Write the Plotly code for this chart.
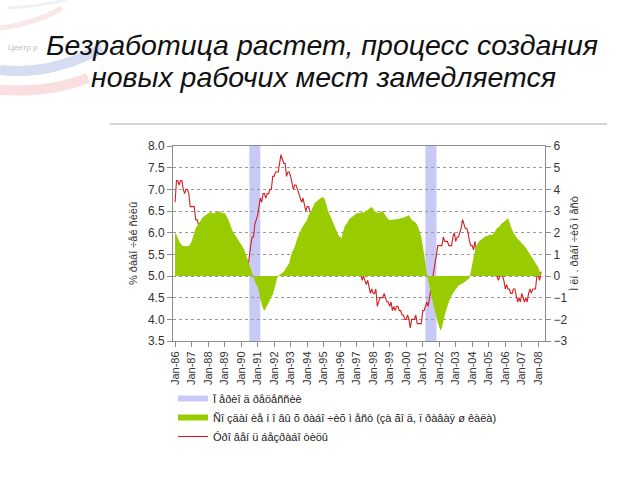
import pandas as pd
import plotly.graph_objects as go

# ---------------- data ----------------
start_month = "1986-01-01"

# Unemployment rate, % of labour force (left axis), monthly Jan-86 .. Mar-08
unemployment = [
    6.7, 7.2, 7.2, 7.1, 7.2, 7.2, 7.0, 6.9, 7.0, 7.0, 6.9, 6.6,   # 1986
    6.6, 6.6, 6.6, 6.3, 6.3, 6.2, 6.1, 6.0, 5.9, 6.0, 5.8, 5.7,   # 1987
    5.7, 5.7, 5.7, 5.4, 5.6, 5.4, 5.4, 5.6, 5.4, 5.4, 5.3, 5.3,   # 1988
    5.4, 5.2, 5.0, 5.2, 5.2, 5.3, 5.2, 5.2, 5.3, 5.3, 5.4, 5.4,   # 1989
    5.4, 5.3, 5.2, 5.4, 5.4, 5.2, 5.5, 5.7, 5.9, 5.9, 6.2, 6.3,   # 1990
    6.4, 6.6, 6.8, 6.7, 6.9, 6.9, 6.8, 6.9, 6.9, 7.0, 7.0, 7.3,   # 1991
    7.3, 7.4, 7.4, 7.4, 7.6, 7.8, 7.7, 7.6, 7.6, 7.3, 7.4, 7.4,   # 1992
    7.3, 7.1, 7.0, 7.1, 7.1, 7.0, 6.9, 6.8, 6.7, 6.8, 6.6, 6.5,   # 1993
    6.6, 6.6, 6.5, 6.4, 6.1, 6.1, 6.1, 6.0, 5.9, 5.8, 5.6, 5.5,   # 1994
    5.6, 5.4, 5.4, 5.8, 5.6, 5.6, 5.7, 5.7, 5.6, 5.5, 5.6, 5.6,   # 1995
    5.6, 5.5, 5.5, 5.6, 5.6, 5.3, 5.5, 5.1, 5.2, 5.2, 5.4, 5.4,   # 1996
    5.3, 5.2, 5.2, 5.1, 4.9, 5.0, 4.9, 4.8, 4.9, 4.7, 4.6, 4.7,   # 1997
    4.6, 4.6, 4.7, 4.3, 4.4, 4.5, 4.5, 4.5, 4.6, 4.5, 4.4, 4.4,   # 1998
    4.3, 4.4, 4.2, 4.3, 4.2, 4.3, 4.3, 4.2, 4.2, 4.1, 4.1, 4.0,   # 1999
    4.0, 4.1, 4.0, 3.8, 4.0, 4.0, 4.0, 4.1, 3.9, 3.9, 3.9, 3.9,   # 2000
    4.2, 4.2, 4.3, 4.4, 4.3, 4.5, 4.6, 4.9, 5.0, 5.3, 5.5, 5.7,   # 2001
    5.7, 5.7, 5.7, 5.9, 5.8, 5.8, 5.8, 5.7, 5.7, 5.7, 5.9, 6.0,   # 2002
    5.8, 5.9, 5.9, 6.0, 6.1, 6.3, 6.2, 6.1, 6.1, 6.0, 5.8, 5.7,   # 2003
    5.7, 5.6, 5.8, 5.6, 5.6, 5.6, 5.5, 5.4, 5.4, 5.5, 5.4, 5.4,   # 2004
    5.3, 5.4, 5.2, 5.2, 5.1, 5.0, 5.0, 4.9, 5.0, 5.0, 5.0, 4.9,   # 2005
    4.7, 4.8, 4.7, 4.7, 4.6, 4.6, 4.7, 4.7, 4.5, 4.4, 4.5, 4.4,   # 2006
    4.6, 4.5, 4.4, 4.5, 4.4, 4.6, 4.7, 4.6, 4.7, 4.7, 4.7, 5.0,   # 2007
    5.0, 4.9, 5.1,                                                # 2008
]

# Job creation over the year, millions (right axis), monthly Jan-86 .. Mar-08
job_creation = [
    2.0, 1.9, 1.75, 1.6, 1.5, 1.42, 1.38, 1.4, 1.36, 1.4, 1.38, 1.45,          # 1986
    1.6, 1.8, 2.0, 2.2, 2.3, 2.4, 2.5, 2.6, 2.7, 2.75, 2.8, 2.85,              # 1987
    2.9, 2.92, 2.95, 2.9, 2.88, 2.92, 2.95, 2.98, 3.0, 2.95, 2.9, 2.92,        # 1988
    2.9, 2.8, 2.7, 2.55, 2.4, 2.2, 2.05, 1.95, 1.85, 1.75, 1.65, 1.55,         # 1989
    1.45, 1.35, 1.25, 1.1, 0.9, 0.7, 0.55, 0.35, 0.15, -0.05, -0.25, -0.4,     # 1990
    -0.5, -0.75, -1.05, -1.3, -1.5, -1.6, -1.5, -1.35, -1.25, -1.1, -0.95, -0.85,  # 1991
    -0.65, -0.4, -0.15, 0.0, 0.05, 0.1, 0.15, 0.2, 0.3, 0.4, 0.5, 0.6,         # 1992
    0.9, 1.1, 1.2, 1.35, 1.55, 1.75, 1.9, 2.05, 2.2, 2.3, 2.4, 2.5,            # 1993
    2.6, 2.8, 2.9, 3.0, 3.15, 3.3, 3.4, 3.45, 3.5, 3.55, 3.6, 3.62,            # 1994
    3.65, 3.5, 3.3, 3.05, 2.9, 2.75, 2.6, 2.45, 2.3, 2.15, 2.0, 1.85,          # 1995
    1.8, 1.75, 2.0, 2.25, 2.35, 2.45, 2.55, 2.65, 2.7, 2.75, 2.8, 2.85,        # 1996
    2.9, 2.92, 2.9, 2.92, 2.95, 2.92, 2.97, 3.0, 3.05, 3.1, 3.15, 3.18,        # 1997
    3.1, 3.0, 2.95, 2.92, 2.9, 2.95, 2.98, 3.0, 2.9, 2.8, 2.7, 2.62,           # 1998
    2.6, 2.58, 2.6, 2.62, 2.6, 2.63, 2.65, 2.62, 2.67, 2.7, 2.68, 2.72,        # 1999
    2.75, 2.78, 2.8, 2.7, 2.6, 2.55, 2.5, 2.45, 2.35, 2.2, 2.0, 1.8,           # 2000
    1.4, 1.0, 0.6, 0.15, -0.2, -0.5, -0.8, -1.1, -1.4, -1.65, -1.9, -2.15,     # 2001
    -2.35, -2.53, -2.4, -2.1, -1.85, -1.6, -1.4, -1.2, -1.05, -0.9, -0.8, -0.7,  # 2002
    -0.6, -0.55, -0.45, -0.4, -0.38, -0.35, -0.3, -0.25, -0.2, -0.15, -0.1, 0.2,  # 2003
    0.55, 0.85, 1.15, 1.35, 1.5, 1.6, 1.65, 1.7, 1.75, 1.8, 1.85, 1.85,        # 2004
    1.88, 1.9, 1.9, 1.92, 2.0, 2.1, 2.2, 2.25, 2.3, 2.4, 2.45, 2.5,            # 2005
    2.55, 2.62, 2.66, 2.5, 2.3, 2.15, 2.0, 1.9, 1.8, 1.72, 1.65, 1.6,          # 2006
    1.5, 1.45, 1.38, 1.3, 1.2, 1.1, 1.0, 0.9, 0.8, 0.7, 0.6, 0.5,              # 2007
    0.4, 0.2, 0.05,                                                            # 2008
]

recession_start = ["1990-07-01", "2001-03-01"]
recession_end = ["1991-03-01", "2001-11-01"]

title_line1 = "Безработица растет, процесс создания"
title_line2 = "новых рабочих мест замедляется"
left_axis_title = "% ðàáî ÷åé ñèëû"
right_axis_title = "Ì ëí . ðàáî ÷èõ ì åñò"
legend_recession = "Ï åðèî ä ðåöåññèè"
legend_jobs = "Ñî çäàí èå í î âû õ ðàáî ÷èõ ì åñò (çà ãî ä, ï ðàâàÿ ø êàëà)"
legend_unemp = "Óðî âåí ü áåçðàáî òèöû"
logo_text = "Центр р"

dates = pd.date_range(start_month, periods=len(unemployment), freq="MS")

# ---------------- styling ----------------
FONT = "Arial, Liberation Sans, sans-serif"
GREEN = "#99cc00"
RED = "#d21f1f"
LAVENDER = "#c9c9f7"
AXIS = "#8c8c8c"
TXT = "#333333"

# plot area in pixels: x 173..545, y 146..341
L, R, T, B = 173, 545, 146, 341


def px(x):
    return (x - L) / (R - L)


def py(y):
    return (B - y) / (B - T)


fig = go.Figure()

# legend-only entry for recession periods
fig.add_trace(go.Scatter(
    x=[None], y=[None], mode="none", fill="toself", fillcolor=LAVENDER,
    name=legend_recession, showlegend=True,
))

fig.add_trace(go.Scatter(
    x=dates, y=job_creation, yaxis="y2", mode="none", fill="tozeroy",
    fillcolor=GREEN, name=legend_jobs,
))

fig.add_trace(go.Scatter(
    x=dates, y=unemployment, mode="lines", line=dict(color=RED, width=1.1),
    name=legend_unemp,
))

shapes = []
for s, e in zip(recession_start, recession_end):
    shapes.append(dict(type="rect", xref="x", yref="paper", x0=s, x1=e, y0=0, y1=1,
                       fillcolor=LAVENDER, line=dict(width=0), layer="between"))

# separator line of the slide
shapes.append(dict(type="line", xref="paper", yref="paper", x0=px(110), x1=px(607),
                   y0=py(124), y1=py(124), line=dict(color="#c8c8c8", width=1.5)))


# faint logo swooshes (decoration of the slide)
def path_px(points):
    (x0, y0), (cx, cy), (x1, y1) = points
    return f"M {px(x0)},{py(y0)} Q {px(cx)},{py(cy)} {px(x1)},{py(y1)}"


shapes.append(dict(type="path", xref="paper", yref="paper", layer="below",
                   path=path_px([(0, 28), (35, 24), (62, 8)]),
                   line=dict(color="rgba(230,150,150,0.22)", width=5)))
shapes.append(dict(type="path", xref="paper", yref="paper", layer="below",
                   path=path_px([(8, 8), (40, 6), (66, 0)]),
                   line=dict(color="rgba(150,160,200,0.15)", width=3)))
shapes.append(dict(type="path", xref="paper", yref="paper", layer="below",
                   path=path_px([(0, 70), (50, 76), (102, 48)]),
                   line=dict(color="rgba(130,150,215,0.33)", width=10)))
shapes.append(dict(type="path", xref="paper", yref="paper", layer="below",
                   path=path_px([(0, 90), (50, 93), (88, 78)]),
                   line=dict(color="rgba(235,140,140,0.28)", width=10)))

annotations = [
    dict(text=title_line1, xref="paper", yref="paper", x=px(322), y=py(45),
         xanchor="center", yanchor="middle", showarrow=False,
         font=dict(family=FONT, size=28.5, color="#111111", style="italic")),
    dict(text=title_line2, xref="paper", yref="paper", x=px(323), y=py(77),
         xanchor="center", yanchor="middle", showarrow=False,
         font=dict(family=FONT, size=28.5, color="#111111", style="italic")),
    dict(text=logo_text, xref="paper", yref="paper", x=px(6), y=py(47),
         xanchor="left", yanchor="middle", showarrow=False,
         font=dict(family=FONT, size=8, color="#bbbbbb")),
]

fig.update_layout(
    width=640, height=480,
    margin=dict(l=L, r=640 - R, t=T, b=480 - B, pad=0),
    paper_bgcolor="white", plot_bgcolor="white",
    font=dict(family=FONT, color=TXT, size=12),
    showlegend=True,
    legend=dict(x=px(173), y=py(384), xanchor="left", yanchor="top",
                font=dict(family=FONT, size=11, color="#222222"),
                bgcolor="rgba(0,0,0,0)", borderwidth=0, itemwidth=30,
                tracegroupgap=0),
    shapes=shapes,
    annotations=annotations,
    xaxis=dict(
        type="date", range=["1985-11-16", "2008-05-29"],
        tickmode="linear", tick0="1986-01-01", dtick="M12", tickformat="%b-%y",
        tickangle=-90, tickfont=dict(size=11, color=TXT),
        showgrid=False, showline=True, linecolor=AXIS, linewidth=1, mirror=True,
        ticks="outside", ticklen=5, tickcolor=AXIS, zeroline=False,
    ),
    yaxis=dict(
        range=[3.5, 8.0], tickmode="linear", tick0=3.5, dtick=0.5, tickformat=".1f",
        showgrid=True, gridcolor="#9a9a9a", griddash="dot", gridwidth=1,
        showline=True, linecolor=AXIS, linewidth=1, ticks="outside", ticklen=5,
        tickcolor=AXIS, zeroline=False, tickfont=dict(size=12, color=TXT),
        title=dict(text=left_axis_title, font=dict(size=11, color=TXT), standoff=8),
    ),
    yaxis2=dict(
        range=[-3, 6], tickmode="linear", tick0=-3, dtick=1, overlaying="y", side="right",
        showgrid=False, showline=True, linecolor=AXIS, linewidth=1, ticks="outside",
        ticklen=5, tickcolor=AXIS, zeroline=False, tickfont=dict(size=12, color=TXT),
        title=dict(text=right_axis_title, font=dict(size=11, color=TXT), standoff=3),
    ),
)

fig.write_html("out.html")
